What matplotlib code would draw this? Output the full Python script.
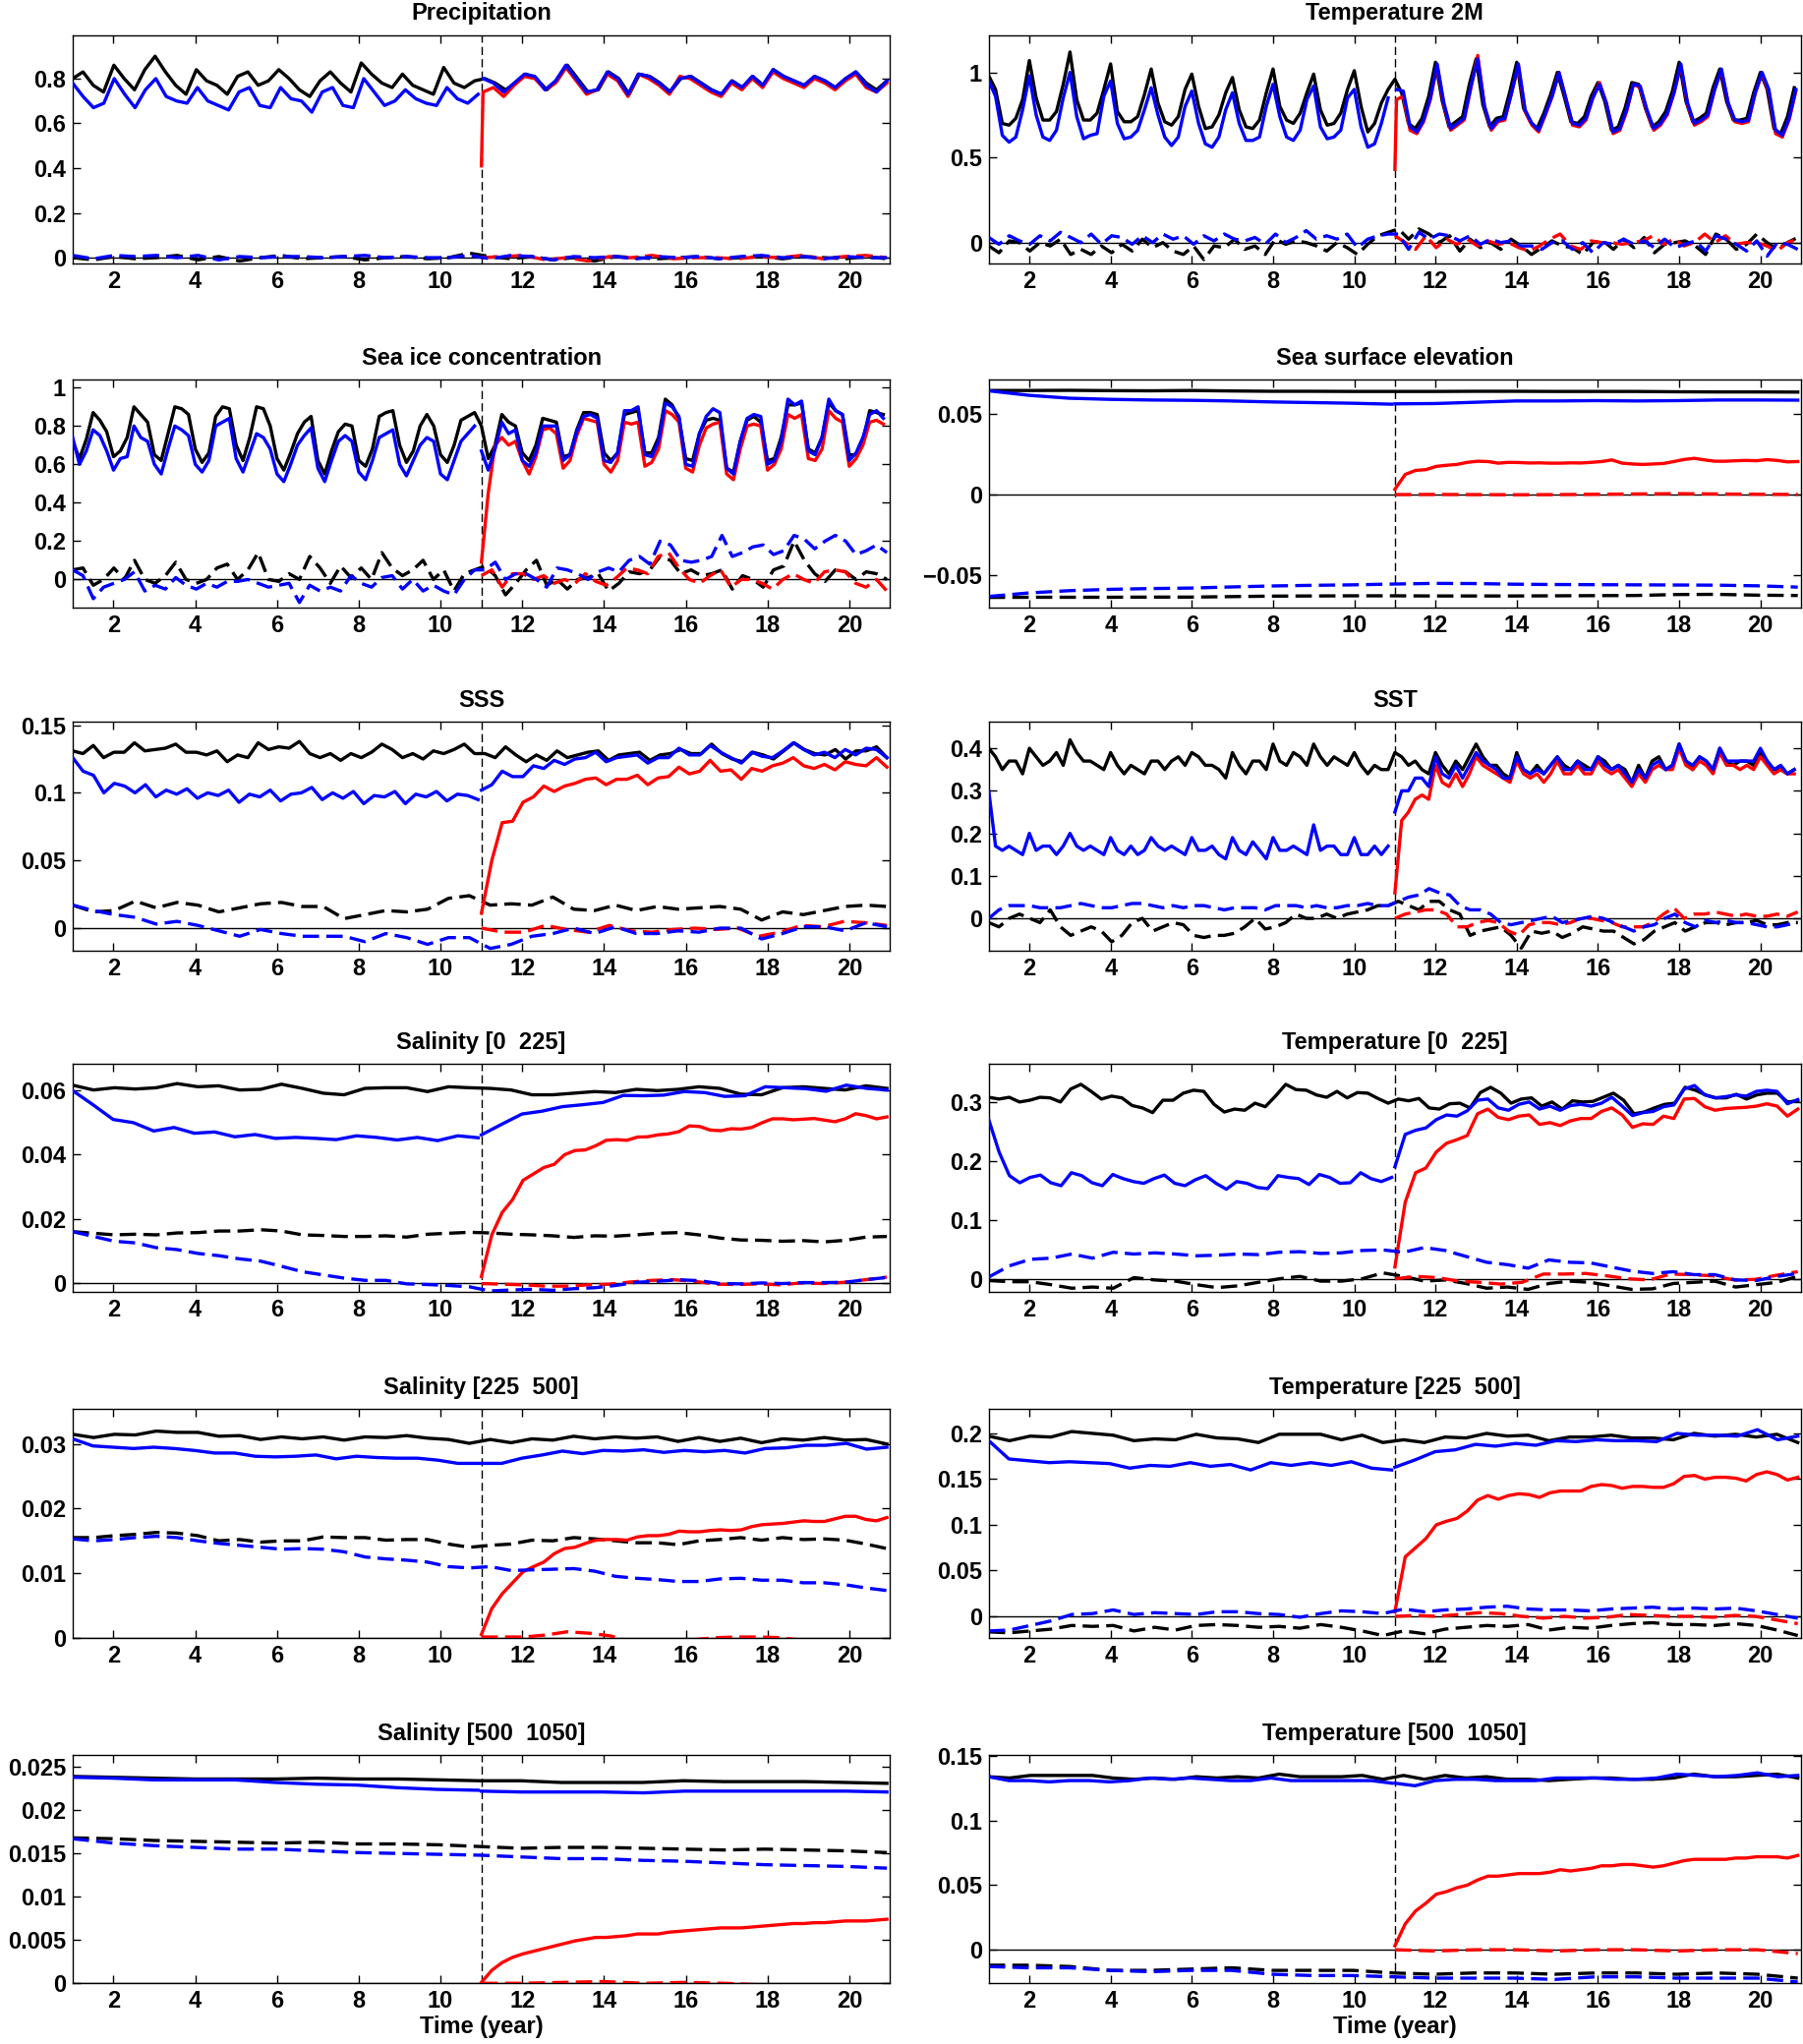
import numpy as np
import matplotlib
matplotlib.use("Agg")
import matplotlib.pyplot as plt

plt.rcParams['font.family'] = ['Liberation Sans', 'DejaVu Sans']
plt.rcParams['font.weight'] = 'bold'
plt.rcParams['axes.unicode_minus'] = True

# ---------------- time grids (years) ----------------
T_SPLIT = 11.0
XTICKS = [2, 4, 6, 8, 10, 12, 14, 16, 18, 20]
T6_FULL = 1 + np.arange(120) / 6
T6_PRE = 1 + np.arange(60) / 6
T6_POST = 11 + np.arange(60) / 6
T6_POST_B = 11.04 + np.arange(60) / 6
TQ_FULL = np.linspace(1, 20.92, 80)
TQ_PRE = np.linspace(1, 10.92, 40)
TQ_POST = np.linspace(11, 20.92, 40)
TQ_POST_B = np.linspace(11.04, 20.92, 40)
TH_FULL = np.linspace(1, 20.92, 40)
TH_PRE = np.linspace(1, 10.92, 21)
TH_POST = np.linspace(11, 20.92, 21)
TH_POST20 = np.linspace(11, 20.92, 20)
TY_FULL = np.linspace(1, 20.92, 21)
TY_PRE = np.linspace(1, 10.92, 11)
TY_POST = np.linspace(11, 20.92, 11)

def flat(rows):
    return np.concatenate([np.asarray(r, dtype=float) for r in rows])

# ---------------- Precipitation ----------------
P_BLACK = flat([
    [0.80, 0.83, 0.77, 0.74, 0.86, 0.80, 0.75, 0.84, 0.90, 0.83],
    [0.77, 0.73, 0.84, 0.79, 0.77, 0.73, 0.81, 0.83, 0.77, 0.79],
    [0.84, 0.80, 0.75, 0.72, 0.79, 0.83, 0.78, 0.74, 0.87, 0.82],
    [0.78, 0.76, 0.82, 0.77, 0.75, 0.73, 0.85, 0.78, 0.76, 0.79],
    [0.80, 0.78, 0.75, 0.78, 0.82, 0.80, 0.75, 0.79, 0.86, 0.80],
    [0.74, 0.75, 0.83, 0.80, 0.73, 0.82, 0.81, 0.78, 0.74, 0.80],
    [0.81, 0.78, 0.75, 0.73, 0.79, 0.76, 0.81, 0.77, 0.84, 0.81],
    [0.79, 0.77, 0.81, 0.79, 0.76, 0.80, 0.83, 0.78, 0.75, 0.79]])
P_BLUE_PRE = flat([
    [0.78, 0.72, 0.67, 0.69, 0.80, 0.73, 0.67, 0.75, 0.80, 0.72],
    [0.70, 0.69, 0.76, 0.70, 0.68, 0.66, 0.74, 0.76, 0.68, 0.67],
    [0.76, 0.71, 0.70, 0.65, 0.74, 0.76, 0.68, 0.67, 0.80, 0.74],
    [0.68, 0.70, 0.75, 0.71, 0.69, 0.68, 0.76, 0.71, 0.69, 0.73]])
P_BLUE_POST = flat([
    [0.80, 0.78, 0.74, 0.78, 0.82, 0.81, 0.75, 0.79, 0.86, 0.80],
    [0.74, 0.75, 0.83, 0.80, 0.73, 0.82, 0.81, 0.78, 0.74, 0.80],
    [0.81, 0.78, 0.75, 0.73, 0.79, 0.76, 0.81, 0.77, 0.84, 0.81],
    [0.79, 0.77, 0.81, 0.79, 0.76, 0.80, 0.83, 0.77, 0.74, 0.79]])
P_RED_START = 0.41
P_RED_POST = flat([
    [0.74, 0.76, 0.72, 0.77, 0.81, 0.80, 0.75, 0.78, 0.85, 0.79],
    [0.73, 0.75, 0.82, 0.79, 0.72, 0.82, 0.80, 0.77, 0.73, 0.81],
    [0.80, 0.77, 0.74, 0.72, 0.78, 0.75, 0.80, 0.76, 0.83, 0.80],
    [0.78, 0.76, 0.80, 0.78, 0.75, 0.79, 0.82, 0.76, 0.74, 0.78]])
P_BLACK_D = flat([
    [0.0, -0.01, 0.005, -0.005, 0.0, 0.01, -0.01, 0.005, -0.015, 0.0],
    [0.01, -0.005, 0.0, 0.005, -0.01, 0.0, 0.005, -0.005, 0.0, 0.02],
    [0.005, -0.005, 0.005, -0.01, 0.0, -0.015, 0.005, 0.0, -0.005, 0.0],
    [0.005, -0.005, 0.0, 0.005, -0.005, 0.005, 0.0, -0.005, 0.005, -0.005]])
P_BLUE_D = flat([
    [0.01, -0.005, 0.01, 0.005, 0.01, 0.0, 0.01, -0.01, 0.005, 0.0],
    [0.005, 0.005, 0.0, 0.005, 0.01, 0.0, 0.005, 0.0, 0.0, 0.01],
    [-0.005, 0.01, 0.005, -0.01, 0.005, 0.0, 0.005, -0.005, 0.005, 0.0],
    [0.005, -0.005, 0.005, 0.01, 0.0, 0.005, -0.005, 0.005, 0.0, 0.0]])
P_RED_D = flat([[0.0, 0.005, 0.01, -0.01, 0.0, -0.015, 0.005, 0.0, 0.01, -0.005],
                [0.0, 0.0, -0.005, 0.005, 0.0, 0.01, -0.005, 0.005, 0.01, 0.0]])

# ---------------- Temperature 2M ----------------
A_BLACK = flat([
    [0.98, 0.90, 0.70, 0.69, 0.73, 0.84], [1.07, 0.85, 0.72, 0.72, 0.77, 0.93],
    [1.12, 0.84, 0.72, 0.72, 0.76, 0.90], [1.05, 0.77, 0.71, 0.71, 0.74, 0.87],
    [1.02, 0.82, 0.71, 0.69, 0.74, 0.90], [0.99, 0.80, 0.67, 0.68, 0.75, 0.88],
    [0.97, 0.78, 0.68, 0.67, 0.72, 0.88], [1.02, 0.80, 0.72, 0.70, 0.76, 0.88],
    [0.99, 0.78, 0.69, 0.70, 0.76, 0.90], [1.01, 0.80, 0.65, 0.70, 0.82, 0.90],
    [0.96, 0.88, 0.70, 0.67, 0.73, 0.86], [1.06, 0.83, 0.68, 0.71, 0.74, 0.93],
    [1.08, 0.81, 0.68, 0.73, 0.74, 0.89], [1.06, 0.79, 0.71, 0.67, 0.76, 0.87],
    [1.00, 0.86, 0.71, 0.70, 0.74, 0.86], [0.94, 0.83, 0.66, 0.68, 0.79, 0.94],
    [0.93, 0.79, 0.68, 0.71, 0.77, 0.89], [1.06, 0.83, 0.71, 0.73, 0.76, 0.91],
    [1.02, 0.83, 0.72, 0.72, 0.73, 0.88], [1.00, 0.90, 0.67, 0.64, 0.74, 0.91]])
A_BLUE_PRE = flat([
    [0.95, 0.86, 0.63, 0.59, 0.62, 0.78], [0.98, 0.75, 0.62, 0.60, 0.66, 0.85],
    [1.00, 0.74, 0.61, 0.63, 0.64, 0.86], [0.95, 0.70, 0.61, 0.62, 0.66, 0.78],
    [0.91, 0.75, 0.62, 0.57, 0.62, 0.80], [0.89, 0.70, 0.58, 0.56, 0.62, 0.78],
    [0.88, 0.70, 0.60, 0.60, 0.62, 0.80], [0.93, 0.74, 0.62, 0.60, 0.66, 0.84],
    [0.92, 0.68, 0.61, 0.62, 0.66, 0.85], [0.90, 0.68, 0.56, 0.58, 0.70, 0.85]])
A_BLUE_POST = flat([
    [0.90, 0.89, 0.68, 0.65, 0.72, 0.85], [1.05, 0.82, 0.67, 0.70, 0.73, 0.92],
    [1.08, 0.80, 0.67, 0.72, 0.73, 0.88], [1.05, 0.78, 0.70, 0.66, 0.76, 0.86],
    [1.00, 0.85, 0.70, 0.69, 0.73, 0.85], [0.93, 0.82, 0.65, 0.67, 0.78, 0.93],
    [0.92, 0.78, 0.67, 0.70, 0.76, 0.88], [1.05, 0.82, 0.70, 0.72, 0.75, 0.90],
    [1.02, 0.82, 0.72, 0.71, 0.72, 0.88], [1.00, 0.90, 0.66, 0.63, 0.73, 0.90]])
A_RED_START = 0.43
A_RED_POST = flat([
    [0.84, 0.86, 0.66, 0.64, 0.71, 0.84], [1.04, 0.81, 0.66, 0.69, 0.72, 0.91],
    [1.10, 0.80, 0.66, 0.71, 0.72, 0.88], [1.04, 0.77, 0.69, 0.65, 0.75, 0.86],
    [1.00, 0.85, 0.69, 0.68, 0.72, 0.85], [0.94, 0.82, 0.64, 0.66, 0.77, 0.93],
    [0.91, 0.77, 0.66, 0.69, 0.75, 0.88], [1.04, 0.81, 0.69, 0.71, 0.74, 0.90],
    [1.01, 0.82, 0.71, 0.70, 0.71, 0.88], [0.99, 0.89, 0.64, 0.62, 0.72, 0.89]])
A_BLACK_D = flat([
    [-0.02, -0.06, 0.01, 0.0, -0.05, 0.0, -0.02, 0.02, -0.07, -0.04],
    [-0.07, -0.02, -0.06, -0.01, -0.05, 0.02, -0.03, 0.0, -0.05, -0.07],
    [-0.02, -0.10, -0.02, -0.03, 0.02, -0.04, -0.02, -0.07, 0.02, -0.01],
    [0.01, 0.0, -0.02, -0.05, 0.0, -0.03, -0.07, -0.01, 0.04, 0.06],
    [0.08, 0.02, 0.08, 0.05, 0.0, 0.04, -0.05, 0.02, -0.03, 0.0],
    [-0.04, 0.02, -0.02, -0.07, -0.03, 0.01, -0.02, -0.03, -0.07, 0.0],
    [0.01, -0.04, 0.02, -0.03, 0.03, -0.06, -0.01, 0.0, 0.01, -0.02],
    [-0.07, 0.05, 0.02, -0.04, -0.01, 0.05, 0.0, -0.04, 0.0, 0.03]])
A_BLUE_D = flat([
    [0.03, -0.01, 0.04, 0.01, -0.01, 0.04, 0.01, 0.06, 0.03, 0.0],
    [0.05, -0.01, 0.04, 0.03, -0.01, 0.04, 0.0, 0.05, 0.02, 0.04],
    [-0.01, 0.04, 0.01, 0.05, 0.02, 0.01, 0.03, -0.01, 0.05, 0.0],
    [0.03, 0.07, 0.02, 0.04, 0.02, 0.05, -0.03, 0.02, 0.04, 0.05],
    [0.05, -0.04, 0.06, 0.02, 0.05, 0.04, 0.01, 0.04, -0.01, 0.02],
    [0.0, 0.01, -0.02, -0.02, -0.04, 0.0, 0.01, -0.04, 0.0, -0.06],
    [0.0, -0.01, 0.02, -0.01, 0.01, -0.03, 0.02, -0.03, -0.01, 0.01],
    [-0.05, 0.04, 0.02, -0.01, -0.05, 0.01, -0.08, 0.0, -0.01, -0.04]])
A_RED_D = flat([
    [0.04, 0.0, -0.04, 0.04, -0.03, 0.02, -0.01, 0.02, -0.02, 0.01],
    [-0.01, 0.0, -0.03, -0.05, -0.02, 0.02, 0.05, -0.02, -0.04, 0.01],
    [0.0, 0.0, -0.01, 0.0, 0.01, 0.04, -0.01, 0.02, -0.02, 0.0],
    [0.05, 0.0, 0.04, -0.01, 0.0, 0.0, -0.02, -0.05, 0.0, 0.02]])

# ---------------- Sea ice concentration ----------------
I_BLACK = flat([
    [0.72, 0.63, 0.73, 0.87, 0.83, 0.77], [0.64, 0.67, 0.74, 0.90, 0.86, 0.82],
    [0.65, 0.62, 0.76, 0.90, 0.89, 0.86], [0.68, 0.61, 0.66, 0.85, 0.90, 0.89],
    [0.70, 0.62, 0.74, 0.90, 0.89, 0.80], [0.63, 0.57, 0.66, 0.76, 0.82, 0.85],
    [0.62, 0.55, 0.67, 0.77, 0.81, 0.80], [0.62, 0.59, 0.68, 0.85, 0.87, 0.88],
    [0.70, 0.61, 0.67, 0.80, 0.86, 0.80], [0.65, 0.61, 0.70, 0.83, 0.85, 0.87],
    [0.80, 0.63, 0.70, 0.86, 0.82, 0.80], [0.66, 0.62, 0.70, 0.84, 0.83, 0.82],
    [0.64, 0.65, 0.78, 0.87, 0.87, 0.86], [0.66, 0.62, 0.66, 0.86, 0.87, 0.88],
    [0.66, 0.66, 0.74, 0.94, 0.91, 0.84], [0.63, 0.62, 0.76, 0.83, 0.84, 0.83],
    [0.58, 0.56, 0.72, 0.83, 0.85, 0.82], [0.62, 0.63, 0.74, 0.91, 0.91, 0.92],
    [0.68, 0.66, 0.74, 0.92, 0.88, 0.86], [0.65, 0.65, 0.72, 0.88, 0.87, 0.86]])
I_BLUE_PRE = flat([
    [0.74, 0.60, 0.67, 0.78, 0.75, 0.67], [0.57, 0.63, 0.64, 0.80, 0.74, 0.72],
    [0.60, 0.55, 0.68, 0.80, 0.78, 0.75], [0.60, 0.56, 0.62, 0.80, 0.82, 0.84],
    [0.63, 0.56, 0.66, 0.76, 0.74, 0.68], [0.55, 0.51, 0.60, 0.70, 0.75, 0.79],
    [0.58, 0.51, 0.62, 0.72, 0.75, 0.72], [0.56, 0.52, 0.62, 0.74, 0.76, 0.78],
    [0.60, 0.54, 0.62, 0.70, 0.74, 0.72], [0.55, 0.52, 0.62, 0.72, 0.76, 0.80]])
I_BLUE_POST = flat([
    [0.67, 0.57, 0.68, 0.82, 0.76, 0.78], [0.62, 0.59, 0.66, 0.80, 0.80, 0.80],
    [0.62, 0.65, 0.77, 0.85, 0.86, 0.84], [0.62, 0.61, 0.66, 0.88, 0.88, 0.90],
    [0.65, 0.64, 0.72, 0.92, 0.90, 0.85], [0.60, 0.59, 0.76, 0.85, 0.89, 0.87],
    [0.58, 0.55, 0.72, 0.84, 0.86, 0.85], [0.60, 0.62, 0.72, 0.94, 0.91, 0.93],
    [0.67, 0.65, 0.74, 0.94, 0.88, 0.86], [0.62, 0.66, 0.74, 0.86, 0.88, 0.84]])
I_RED_POST = flat([
    [0.09, 0.45, 0.70, 0.74, 0.70, 0.72], [0.62, 0.55, 0.64, 0.78, 0.79, 0.76],
    [0.58, 0.62, 0.75, 0.84, 0.83, 0.82], [0.60, 0.56, 0.62, 0.82, 0.81, 0.82],
    [0.59, 0.61, 0.68, 0.88, 0.86, 0.82], [0.58, 0.56, 0.70, 0.79, 0.81, 0.82],
    [0.55, 0.52, 0.68, 0.80, 0.81, 0.80], [0.57, 0.60, 0.68, 0.86, 0.84, 0.86],
    [0.63, 0.62, 0.68, 0.88, 0.84, 0.82], [0.59, 0.63, 0.70, 0.82, 0.83, 0.81]])
I_BLACK_D = flat([
    [0.05, 0.06, -0.03, 0.0, 0.06, 0.0, 0.10, 0.0, -0.02, 0.02],
    [0.09, 0.0, -0.02, 0.0, 0.06, 0.08, 0.0, 0.05, 0.14, 0.0],
    [-0.01, 0.03, 0.0, 0.12, 0.06, -0.02, 0.07, 0.01, 0.06, 0.0],
    [0.14, 0.06, 0.02, 0.05, 0.10, 0.0, 0.05, -0.06, 0.03, 0.05],
    [0.07, 0.02, -0.08, -0.02, 0.05, 0.10, -0.03, 0.0, -0.05, 0.0],
    [0.01, 0.03, -0.06, -0.02, 0.04, 0.03, 0.05, 0.12, 0.10, 0.03],
    [0.05, 0.02, 0.03, 0.05, -0.05, 0.02, 0.0, -0.04, 0.05, 0.07],
    [0.20, 0.10, 0.03, -0.01, 0.05, 0.04, 0.0, 0.04, 0.03, 0.0]])
I_BLUE_D = flat([
    [0.05, 0.02, -0.10, -0.04, -0.02, 0.0, 0.04, -0.06, -0.03, -0.05],
    [0.01, -0.03, -0.05, -0.02, -0.04, -0.01, -0.01, 0.0, -0.02, -0.04],
    [-0.03, -0.02, -0.12, -0.03, -0.06, -0.04, -0.06, 0.02, -0.02, -0.04],
    [0.01, 0.02, -0.05, 0.0, -0.06, -0.03, -0.06, -0.08, 0.0, 0.05],
    [0.05, 0.09, 0.0, 0.03, 0.03, 0.0, -0.04, 0.06, 0.05, 0.03],
    [0.0, 0.04, 0.06, 0.04, 0.10, 0.12, 0.08, 0.20, 0.18, 0.10],
    [0.09, 0.10, 0.12, 0.23, 0.12, 0.14, 0.17, 0.18, 0.13, 0.15],
    [0.23, 0.21, 0.16, 0.20, 0.23, 0.20, 0.13, 0.15, 0.18, 0.14]])
I_RED_D = flat([
    [0.02, 0.05, -0.04, 0.03, 0.03, 0.0, 0.02, -0.02, 0.0, -0.02],
    [0.03, -0.01, -0.03, 0.01, 0.06, 0.05, 0.03, 0.12, 0.14, 0.06],
    [0.0, -0.02, 0.02, 0.05, -0.04, 0.0, 0.0, -0.02, -0.05, 0.0],
    [0.03, 0.0, -0.02, 0.04, 0.05, 0.04, -0.02, -0.04, 0.0, -0.06]])

# ---------------- Sea surface elevation ----------------
E_BLACK = [0.0646, 0.0646, 0.0647, 0.0645, 0.0644, 0.0646, 0.0643, 0.0641, 0.0641, 0.0640, 0.0640,
           0.0640, 0.0641, 0.0641, 0.0640, 0.0640, 0.0640, 0.0638, 0.0637, 0.0637, 0.0636]
E_BLUE_PRE = [0.0644, 0.0616, 0.0598, 0.0591, 0.0587, 0.0585, 0.0581, 0.0575, 0.0571, 0.0567, 0.0561]
E_BLUE_POST = [0.0563, 0.0565, 0.0573, 0.0581, 0.0581, 0.0583, 0.0581, 0.0583, 0.0587, 0.0587, 0.0586]
E_RED = flat([
    [0.0033, 0.0125, 0.0150, 0.0155, 0.0175, 0.0182, 0.0187, 0.0200, 0.0207, 0.0205],
    [0.0195, 0.0200, 0.0199, 0.0196, 0.0197, 0.0195, 0.0195, 0.0197, 0.0196, 0.0200],
    [0.0205, 0.0215, 0.0195, 0.0190, 0.0187, 0.0190, 0.0193, 0.0205, 0.0218, 0.0225],
    [0.0215, 0.0207, 0.0207, 0.0210, 0.0212, 0.0210, 0.0217, 0.0212, 0.0203, 0.0205]])
E_BLACK_D = [-0.0638, -0.0637, -0.0637, -0.0637, -0.0636, -0.0636, -0.0633, -0.0630, -0.0629, -0.0628, -0.0628,
             -0.0629, -0.0629, -0.0629, -0.0628, -0.0627, -0.0626, -0.0620, -0.0619, -0.0624, -0.0626]
E_BLUE_D = [-0.0632, -0.0610, -0.0596, -0.0588, -0.0583, -0.0580, -0.0573, -0.0567, -0.0563, -0.0560, -0.0555,
            -0.0551, -0.0552, -0.0556, -0.0558, -0.0559, -0.0560, -0.0561, -0.0562, -0.0566, -0.0574]
E_RED_D = [0.0000, 0.0001, 0.0000, -0.0001, 0.0000, 0.0002, 0.0004, 0.0006, 0.0004, 0.0002, 0.0001]

# ---------------- SSS ----------------
S_BLACK = flat([
    [0.131, 0.129, 0.135, 0.126, 0.130, 0.130, 0.137, 0.131, 0.132, 0.133],
    [0.136, 0.130, 0.130, 0.128, 0.131, 0.123, 0.128, 0.126, 0.137, 0.132],
    [0.134, 0.133, 0.138, 0.129, 0.126, 0.129, 0.124, 0.129, 0.126, 0.130],
    [0.136, 0.132, 0.126, 0.129, 0.125, 0.131, 0.129, 0.132, 0.136, 0.129],
    [0.129, 0.126, 0.134, 0.128, 0.123, 0.128, 0.124, 0.131, 0.126, 0.128],
    [0.130, 0.131, 0.124, 0.128, 0.129, 0.130, 0.124, 0.128, 0.129, 0.132],
    [0.129, 0.129, 0.136, 0.129, 0.125, 0.123, 0.130, 0.128, 0.125, 0.131],
    [0.137, 0.132, 0.129, 0.128, 0.132, 0.125, 0.131, 0.131, 0.134, 0.126]])
S_BLUE_PRE = flat([
    [0.126, 0.116, 0.113, 0.100, 0.107, 0.105, 0.100, 0.106, 0.097, 0.102],
    [0.099, 0.103, 0.096, 0.100, 0.098, 0.102, 0.093, 0.099, 0.097, 0.102],
    [0.094, 0.099, 0.100, 0.104, 0.095, 0.100, 0.096, 0.101, 0.092, 0.098],
    [0.097, 0.101, 0.092, 0.099, 0.097, 0.101, 0.094, 0.099, 0.098, 0.095]])
S_BLUE_POST = flat([
    [0.102, 0.106, 0.116, 0.112, 0.112, 0.120, 0.118, 0.124, 0.121, 0.125],
    [0.126, 0.130, 0.123, 0.126, 0.127, 0.128, 0.122, 0.126, 0.126, 0.133],
    [0.128, 0.128, 0.135, 0.130, 0.126, 0.122, 0.130, 0.127, 0.126, 0.131],
    [0.137, 0.132, 0.128, 0.130, 0.126, 0.132, 0.128, 0.133, 0.132, 0.126]])
S_RED = flat([
    [0.011, 0.050, 0.078, 0.079, 0.093, 0.097, 0.105, 0.101, 0.105, 0.107],
    [0.110, 0.111, 0.106, 0.110, 0.110, 0.113, 0.106, 0.111, 0.112, 0.119],
    [0.114, 0.116, 0.124, 0.116, 0.117, 0.110, 0.118, 0.116, 0.120, 0.122],
    [0.126, 0.120, 0.118, 0.121, 0.117, 0.123, 0.121, 0.120, 0.126, 0.119]])
S_BLACK_D = flat([
    [0.017, 0.012, 0.013, 0.020, 0.015, 0.019, 0.017, 0.012, 0.015, 0.018],
    [0.019, 0.016, 0.016, 0.007, 0.010, 0.013, 0.012, 0.014, 0.022, 0.024],
    [0.017, 0.018, 0.017, 0.023, 0.014, 0.013, 0.017, 0.013, 0.016, 0.014],
    [0.015, 0.016, 0.014, 0.006, 0.012, 0.010, 0.013, 0.016, 0.017, 0.016]])
S_BLUE_D = flat([
    [0.017, 0.013, 0.010, 0.008, 0.003, 0.005, 0.002, -0.002, -0.006, -0.001],
    [-0.004, -0.006, -0.006, -0.006, -0.010, -0.004, -0.007, -0.012, -0.007, -0.007],
    [-0.015, -0.012, -0.006, -0.004, 0.000, -0.004, 0.001, -0.004, -0.004, -0.002],
    [-0.003, 0.000, 0.000, -0.008, -0.004, 0.001, 0.001, -0.002, 0.004, 0.001]])
S_RED_D = flat([
    [0.0, -0.003, -0.003, 0.002, -0.001, -0.003, 0.002, -0.002, -0.003, -0.001],
    [0.0, -0.001, 0.0, -0.006, -0.003, 0.002, 0.001, 0.005, 0.004, 0.002]])

# ---------------- SST ----------------
T_BLACK = flat([
    [0.40, 0.38, 0.35, 0.37, 0.37, 0.34], [0.40, 0.38, 0.36, 0.37, 0.39, 0.36],
    [0.42, 0.39, 0.37, 0.37, 0.36, 0.35], [0.39, 0.36, 0.34, 0.36, 0.35, 0.34],
    [0.37, 0.37, 0.35, 0.37, 0.38, 0.36], [0.39, 0.38, 0.36, 0.36, 0.35, 0.33],
    [0.39, 0.36, 0.34, 0.37, 0.37, 0.35], [0.41, 0.37, 0.36, 0.39, 0.38, 0.36],
    [0.41, 0.38, 0.36, 0.38, 0.37, 0.36], [0.39, 0.36, 0.34, 0.36, 0.35, 0.35],
    [0.39, 0.38, 0.36, 0.37, 0.35, 0.34], [0.39, 0.36, 0.34, 0.37, 0.35, 0.38],
    [0.41, 0.38, 0.36, 0.36, 0.34, 0.33], [0.39, 0.35, 0.34, 0.36, 0.34, 0.36],
    [0.38, 0.36, 0.35, 0.37, 0.36, 0.35], [0.38, 0.37, 0.35, 0.36, 0.35, 0.32],
    [0.36, 0.33, 0.37, 0.38, 0.35, 0.36], [0.41, 0.37, 0.35, 0.38, 0.37, 0.35],
    [0.40, 0.37, 0.36, 0.37, 0.37, 0.36], [0.39, 0.37, 0.35, 0.35, 0.34, 0.35]])
T_BLUE_PRE = flat([
    [0.30, 0.17, 0.16, 0.17, 0.16, 0.15], [0.20, 0.16, 0.17, 0.17, 0.15, 0.17],
    [0.20, 0.17, 0.16, 0.17, 0.16, 0.15], [0.19, 0.16, 0.15, 0.17, 0.15, 0.16],
    [0.19, 0.17, 0.16, 0.17, 0.16, 0.15], [0.19, 0.16, 0.16, 0.17, 0.15, 0.14],
    [0.19, 0.16, 0.15, 0.18, 0.16, 0.14], [0.19, 0.16, 0.16, 0.17, 0.16, 0.15],
    [0.22, 0.16, 0.17, 0.17, 0.15, 0.15], [0.19, 0.15, 0.15, 0.17, 0.15, 0.17]])
T_BLUE_POST = flat([
    [0.25, 0.30, 0.30, 0.33, 0.33, 0.31], [0.38, 0.34, 0.33, 0.36, 0.33, 0.36],
    [0.39, 0.37, 0.36, 0.35, 0.33, 0.33], [0.38, 0.35, 0.34, 0.35, 0.34, 0.36],
    [0.38, 0.35, 0.35, 0.37, 0.35, 0.35], [0.38, 0.36, 0.35, 0.36, 0.34, 0.32],
    [0.35, 0.33, 0.36, 0.37, 0.35, 0.36], [0.41, 0.37, 0.36, 0.38, 0.37, 0.35],
    [0.40, 0.37, 0.37, 0.37, 0.37, 0.37], [0.40, 0.37, 0.35, 0.36, 0.34, 0.35]])
T_RED = flat([
    [0.06, 0.23, 0.25, 0.28, 0.29, 0.28], [0.36, 0.32, 0.31, 0.34, 0.31, 0.34],
    [0.38, 0.36, 0.35, 0.34, 0.33, 0.32], [0.37, 0.34, 0.33, 0.34, 0.32, 0.34],
    [0.37, 0.34, 0.34, 0.36, 0.34, 0.34], [0.37, 0.35, 0.34, 0.35, 0.33, 0.31],
    [0.34, 0.32, 0.35, 0.36, 0.35, 0.35], [0.40, 0.36, 0.35, 0.37, 0.36, 0.34],
    [0.39, 0.36, 0.36, 0.35, 0.36, 0.35], [0.38, 0.36, 0.34, 0.35, 0.34, 0.34]])
T_BLACK_D = flat([
    [-0.01, -0.02, 0.0, 0.01, 0.0, -0.01, 0.02, -0.02, -0.04, -0.03],
    [-0.02, -0.03, -0.055, -0.04, -0.01, 0.0, -0.03, -0.02, -0.01, -0.015],
    [-0.04, -0.045, -0.04, -0.04, -0.035, -0.02, 0.0, -0.025, -0.02, -0.01],
    [0.01, 0.0, 0.0, 0.01, 0.0, 0.01, 0.015, 0.02, 0.03, 0.03],
    [0.04, 0.03, 0.02, 0.04, 0.04, 0.02, 0.01, -0.04, -0.03, -0.025],
    [-0.02, -0.04, -0.07, -0.03, -0.035, -0.03, -0.045, -0.035, -0.02, -0.025],
    [-0.03, -0.03, -0.045, -0.06, -0.05, -0.03, -0.02, -0.01, -0.03, -0.02],
    [-0.01, -0.01, -0.015, -0.01, -0.01, -0.005, -0.015, -0.015, -0.01, -0.01]])
T_BLUE_D = flat([
    [0.0, 0.02, 0.03, 0.03, 0.03, 0.025, 0.025, 0.025, 0.03, 0.035],
    [0.03, 0.025, 0.025, 0.03, 0.035, 0.035, 0.03, 0.025, 0.03, 0.025],
    [0.03, 0.03, 0.025, 0.02, 0.025, 0.025, 0.025, 0.02, 0.03, 0.03],
    [0.03, 0.025, 0.03, 0.025, 0.025, 0.03, 0.03, 0.035, 0.03, 0.03],
    [0.04, 0.05, 0.055, 0.07, 0.06, 0.055, 0.03, 0.02, 0.02, 0.01],
    [-0.01, -0.015, -0.01, -0.005, 0.0, 0.005, -0.01, -0.005, 0.0, 0.005],
    [0.0, -0.01, -0.02, -0.03, -0.02, -0.015, 0.0, 0.01, -0.01, -0.02],
    [-0.005, -0.01, -0.005, -0.01, -0.01, -0.015, -0.02, -0.02, -0.015, -0.01]])
T_RED_D = flat([
    [0.0, 0.01, 0.015, 0.02, 0.02, 0.01, -0.02, -0.02, -0.01, -0.005],
    [-0.01, -0.03, -0.04, -0.015, -0.01, -0.01, -0.015, -0.01, 0.0, 0.0],
    [-0.005, -0.01, -0.02, -0.02, -0.02, -0.01, 0.01, 0.025, 0.0, 0.01],
    [0.01, 0.015, 0.01, 0.005, 0.01, 0.005, 0.005, 0.01, 0.005, 0.015]])

# ---------------- Salinity [0 225] ----------------
S1_BLACK = flat([
    [0.0617, 0.0602, 0.0609, 0.0605, 0.0609, 0.0622, 0.0612, 0.0615, 0.0602, 0.0604],
    [0.0620, 0.0607, 0.0592, 0.0587, 0.0607, 0.0609, 0.0609, 0.0597, 0.0612, 0.0609],
    [0.0607, 0.0602, 0.0587, 0.0587, 0.0592, 0.0597, 0.0594, 0.0604, 0.0600, 0.0604],
    [0.0612, 0.0607, 0.0589, 0.0587, 0.0609, 0.0612, 0.0607, 0.0602, 0.0615, 0.0607]])
S1_BLUE_PRE = [0.0600, 0.0556, 0.0510, 0.0500, 0.0474, 0.0485, 0.0467, 0.0471, 0.0456, 0.0463, 0.0451,
               0.0454, 0.0451, 0.0447, 0.0459, 0.0454, 0.0446, 0.0454, 0.0444, 0.0459, 0.0453]
S1_BLUE_POST = [0.0462, 0.0495, 0.0527, 0.0536, 0.0550, 0.0556, 0.0563, 0.0585, 0.0584, 0.0586, 0.0597,
                0.0594, 0.0582, 0.0584, 0.0612, 0.0609, 0.0606, 0.0598, 0.0617, 0.0607, 0.0602]
S1_RED = flat([
    [0.0020, 0.0150, 0.0220, 0.0260, 0.0320, 0.0340, 0.0360, 0.0370, 0.0400, 0.0413],
    [0.0415, 0.0428, 0.0445, 0.0447, 0.0445, 0.0455, 0.0456, 0.0462, 0.0465, 0.0472],
    [0.0490, 0.0488, 0.0477, 0.0475, 0.0481, 0.0480, 0.0485, 0.0500, 0.0512, 0.0512],
    [0.0509, 0.0511, 0.0513, 0.0508, 0.0503, 0.0512, 0.0528, 0.0522, 0.0512, 0.0518]])
S1_BLACK_D = flat([
    [0.0160, 0.0155, 0.0150, 0.0152, 0.0150, 0.0156, 0.0157, 0.0162, 0.0162, 0.0166],
    [0.0162, 0.0150, 0.0148, 0.0145, 0.0145, 0.0147, 0.0143, 0.0152, 0.0155, 0.0158],
    [0.0156, 0.0152, 0.0150, 0.0147, 0.0142, 0.0147, 0.0146, 0.0150, 0.0155, 0.0157],
    [0.0150, 0.0140, 0.0134, 0.0133, 0.0130, 0.0132, 0.0128, 0.0133, 0.0143, 0.0145]])
S1_BLUE_D = flat([
    [0.0160, 0.0145, 0.0130, 0.0125, 0.0110, 0.0104, 0.0092, 0.0085, 0.0075, 0.0068],
    [0.0052, 0.0035, 0.0025, 0.0015, 0.0008, 0.0008, -0.0003, -0.0005, -0.0008, -0.0012],
    [-0.0025, -0.0022, -0.0020, -0.0023, -0.0018, -0.0015, -0.0008, 0.0002, 0.0005, 0.0010],
    [0.0007, -0.0002, -0.0003, 0.0000, -0.0002, 0.0001, 0.0001, 0.0002, 0.0010, 0.0017]])
S1_RED_D = flat([
    [-0.0002, -0.0004, -0.0006, -0.0010, -0.0010, -0.0006, -0.0004, 0.0003, 0.0008, 0.0010],
    [0.0005, -0.0004, -0.0005, -0.0003, -0.0006, 0.0000, -0.0002, 0.0002, 0.0010, 0.0018]])

# ---------------- Temperature [0 225] ----------------
T1_BLACK = flat([
    [0.308, 0.305, 0.308, 0.300, 0.303, 0.308, 0.307, 0.300, 0.322, 0.330],
    [0.318, 0.305, 0.310, 0.307, 0.294, 0.290, 0.282, 0.303, 0.303, 0.315],
    [0.320, 0.318, 0.296, 0.283, 0.288, 0.286, 0.298, 0.292, 0.310, 0.330],
    [0.321, 0.320, 0.312, 0.308, 0.318, 0.307, 0.316, 0.315, 0.306, 0.298],
    [0.305, 0.302, 0.306, 0.290, 0.288, 0.297, 0.298, 0.290, 0.316, 0.325],
    [0.315, 0.298, 0.305, 0.307, 0.293, 0.300, 0.288, 0.302, 0.300, 0.301],
    [0.308, 0.315, 0.303, 0.280, 0.283, 0.290, 0.296, 0.298, 0.325, 0.320],
    [0.312, 0.307, 0.307, 0.313, 0.305, 0.312, 0.315, 0.315, 0.300, 0.302]])
T1_BLUE_PRE = flat([
    [0.270, 0.215, 0.175, 0.163, 0.172, 0.176, 0.163, 0.158, 0.180, 0.175],
    [0.163, 0.158, 0.177, 0.170, 0.165, 0.162, 0.170, 0.176, 0.162, 0.158],
    [0.168, 0.175, 0.162, 0.152, 0.165, 0.162, 0.155, 0.153, 0.175, 0.172],
    [0.170, 0.160, 0.177, 0.172, 0.162, 0.163, 0.180, 0.170, 0.165, 0.172]])
T1_BLUE_POST = flat([
    [0.190, 0.245, 0.252, 0.256, 0.270, 0.278, 0.276, 0.285, 0.303, 0.305],
    [0.290, 0.286, 0.296, 0.300, 0.288, 0.293, 0.286, 0.294, 0.296, 0.293],
    [0.298, 0.308, 0.293, 0.277, 0.282, 0.284, 0.292, 0.295, 0.322, 0.328],
    [0.312, 0.307, 0.309, 0.312, 0.310, 0.318, 0.320, 0.318, 0.297, 0.304]])
T1_RED = flat([
    [0.020, 0.130, 0.180, 0.188, 0.215, 0.230, 0.236, 0.243, 0.280, 0.288],
    [0.274, 0.270, 0.276, 0.278, 0.262, 0.265, 0.260, 0.268, 0.272, 0.272],
    [0.284, 0.290, 0.278, 0.257, 0.263, 0.262, 0.276, 0.272, 0.305, 0.306],
    [0.292, 0.286, 0.289, 0.290, 0.291, 0.293, 0.297, 0.293, 0.276, 0.288]])
T1_BLACK_D = flat([
    [-0.003, -0.005, -0.005, -0.010, -0.016, -0.014, -0.016, 0.002, -0.002, -0.004],
    [-0.010, -0.015, -0.012, -0.006, 0.000, 0.004, -0.004, -0.004, 0.000, 0.010],
    [0.004, -0.004, -0.002, -0.008, -0.016, -0.014, -0.018, -0.008, -0.004, -0.006],
    [-0.012, -0.018, -0.017, -0.008, -0.006, -0.004, -0.014, -0.010, -0.006, 0.004]])
T1_BLUE_D = flat([
    [0.003, 0.022, 0.033, 0.035, 0.042, 0.035, 0.045, 0.042, 0.044, 0.042],
    [0.039, 0.040, 0.042, 0.041, 0.045, 0.046, 0.043, 0.044, 0.048, 0.049],
    [0.045, 0.053, 0.048, 0.038, 0.028, 0.024, 0.018, 0.032, 0.028, 0.027],
    [0.020, 0.013, 0.009, 0.012, 0.007, 0.007, -0.002, -0.003, 0.004, 0.009]])
T1_RED_D = flat([
    [0.000, 0.004, 0.002, -0.004, -0.006, -0.009, -0.006, 0.008, 0.008, 0.009],
    [0.005, 0.000, -0.002, 0.008, 0.007, 0.005, -0.002, -0.001, 0.006, 0.012]])

# ---------------- Salinity [225 500] ----------------
S2_BLACK = flat([
    [0.0315, 0.0310, 0.0315, 0.0314, 0.0320, 0.0318, 0.0318, 0.0312, 0.0313, 0.0307],
    [0.0311, 0.0308, 0.0311, 0.0306, 0.0311, 0.0310, 0.0313, 0.0309, 0.0307, 0.0301],
    [0.0307, 0.0302, 0.0308, 0.0306, 0.0312, 0.0308, 0.0311, 0.0309, 0.0311, 0.0304],
    [0.0310, 0.0304, 0.0309, 0.0302, 0.0308, 0.0306, 0.0310, 0.0306, 0.0307, 0.0300]])
S2_BLUE_PRE = [0.0308, 0.0297, 0.0295, 0.0293, 0.0295, 0.0293, 0.0290, 0.0286, 0.0286, 0.0281, 0.0280,
               0.0281, 0.0283, 0.0277, 0.0281, 0.0279, 0.0278, 0.0278, 0.0275, 0.0270, 0.0270]
S2_BLUE_POST = [0.0270, 0.0270, 0.0278, 0.0283, 0.0289, 0.0285, 0.0290, 0.0289, 0.0291, 0.0287, 0.0290,
                0.0288, 0.0290, 0.0286, 0.0293, 0.0294, 0.0298, 0.0298, 0.0301, 0.0292, 0.0295]
S2_RED = flat([
    [0.0005, 0.0045, 0.0068, 0.0085, 0.0102, 0.0110, 0.0117, 0.0130, 0.0138, 0.0140],
    [0.0146, 0.0151, 0.0152, 0.0152, 0.0151, 0.0156, 0.0158, 0.0158, 0.0160, 0.0165],
    [0.0164, 0.0164, 0.0166, 0.0167, 0.0166, 0.0167, 0.0172, 0.0175, 0.0176, 0.0177],
    [0.0179, 0.0181, 0.0180, 0.0180, 0.0184, 0.0188, 0.0188, 0.0183, 0.0181, 0.0186]])
S2_BLACK_D = flat([
    [0.0155, 0.0155, 0.0158, 0.0160, 0.0163, 0.0162, 0.0158, 0.0150, 0.0152, 0.0148],
    [0.0150, 0.0150, 0.0156, 0.0155, 0.0155, 0.0151, 0.0152, 0.0152, 0.0145, 0.0140],
    [0.0143, 0.0145, 0.0151, 0.0150, 0.0155, 0.0153, 0.0150, 0.0147, 0.0147, 0.0144],
    [0.0150, 0.0152, 0.0155, 0.0151, 0.0155, 0.0152, 0.0153, 0.0151, 0.0145, 0.0138]])
S2_BLUE_D = flat([
    [0.0153, 0.0150, 0.0152, 0.0155, 0.0157, 0.0155, 0.0150, 0.0146, 0.0143, 0.0140],
    [0.0137, 0.0138, 0.0137, 0.0133, 0.0125, 0.0122, 0.0120, 0.0117, 0.0110, 0.0108],
    [0.0110, 0.0104, 0.0105, 0.0106, 0.0107, 0.0103, 0.0095, 0.0092, 0.0090, 0.0087],
    [0.0087, 0.0091, 0.0092, 0.0089, 0.0089, 0.0085, 0.0085, 0.0082, 0.0077, 0.0073]])
S2_RED_D = flat([
    [0.0001, 0.0001, 0.0001, 0.0004, 0.0009, 0.0007, 0.0003, -0.0006, -0.0008, -0.0005],
    [-0.0003, 0.0000, 0.0001, 0.0001, 0.0000, -0.0004, -0.0006, -0.0005, -0.0004, -0.0006]])

# ---------------- Temperature [225 500] ----------------
T2_BLACK = flat([
    [0.197, 0.192, 0.197, 0.196, 0.202, 0.200, 0.198, 0.192, 0.194, 0.193],
    [0.199, 0.195, 0.194, 0.190, 0.199, 0.199, 0.199, 0.193, 0.198, 0.190],
    [0.193, 0.190, 0.196, 0.195, 0.200, 0.197, 0.198, 0.192, 0.196, 0.196],
    [0.198, 0.195, 0.195, 0.193, 0.200, 0.197, 0.199, 0.196, 0.199, 0.190]])
T2_BLUE_PRE = [0.192, 0.172, 0.170, 0.168, 0.169, 0.168, 0.167, 0.162, 0.165, 0.164, 0.168,
               0.164, 0.166, 0.160, 0.168, 0.165, 0.168, 0.165, 0.169, 0.162, 0.160]
T2_BLUE_POST = [0.163, 0.171, 0.180, 0.182, 0.188, 0.186, 0.189, 0.187, 0.192, 0.191, 0.193,
                0.192, 0.192, 0.191, 0.200, 0.198, 0.198, 0.197, 0.204, 0.193, 0.197]
T2_RED = flat([
    [0.005, 0.065, 0.075, 0.085, 0.100, 0.104, 0.107, 0.115, 0.127, 0.132],
    [0.128, 0.132, 0.134, 0.133, 0.130, 0.135, 0.137, 0.137, 0.137, 0.142],
    [0.144, 0.143, 0.140, 0.142, 0.142, 0.141, 0.141, 0.145, 0.153, 0.154],
    [0.150, 0.152, 0.152, 0.151, 0.148, 0.155, 0.158, 0.155, 0.149, 0.152]])
T2_BLACK_D = flat([
    [-0.017, -0.018, -0.016, -0.014, -0.010, -0.011, -0.010, -0.016, -0.012, -0.015],
    [-0.010, -0.009, -0.010, -0.012, -0.011, -0.013, -0.009, -0.012, -0.016, -0.021],
    [-0.016, -0.019, -0.014, -0.012, -0.010, -0.011, -0.009, -0.015, -0.012, -0.013],
    [-0.010, -0.008, -0.007, -0.009, -0.009, -0.010, -0.008, -0.010, -0.015, -0.021]])
T2_BLUE_D = flat([
    [-0.016, -0.015, -0.010, -0.005, 0.002, 0.003, 0.007, 0.002, 0.004, 0.003],
    [0.002, 0.005, 0.005, 0.003, 0.002, -0.001, 0.003, 0.006, 0.005, 0.003],
    [0.008, 0.005, 0.007, 0.008, 0.010, 0.011, 0.008, 0.007, 0.007, 0.006],
    [0.008, 0.009, 0.010, 0.008, 0.009, 0.008, 0.009, 0.006, 0.002, -0.002]])
T2_RED_D = flat([
    [0.000, 0.001, 0.000, 0.002, 0.004, 0.003, 0.000, -0.002, 0.000, -0.002],
    [-0.001, 0.002, 0.001, 0.000, 0.000, -0.001, 0.001, 0.000, -0.004, -0.008]])

# ---------------- Salinity [500 1050] ----------------
S3_BLACK = [0.0239, 0.0238, 0.0237, 0.0236, 0.0236, 0.0236, 0.0237, 0.0236, 0.0236, 0.0235, 0.0234,
            0.0234, 0.0232, 0.0232, 0.0232, 0.0234, 0.0233, 0.0233, 0.0233, 0.0232, 0.0231]
S3_BLUE_PRE = [0.0238, 0.0237, 0.0235, 0.0235, 0.0235, 0.0232, 0.0230, 0.0229, 0.0226, 0.0224, 0.0223]
S3_BLUE_POST = [0.0222, 0.0221, 0.0221, 0.0221, 0.0220, 0.0222, 0.0222, 0.0222, 0.0222, 0.0222, 0.0221]
S3_RED = flat([
    [0.0001, 0.0015, 0.0024, 0.0030, 0.0034, 0.0037, 0.0040, 0.0043, 0.0046, 0.0049],
    [0.0051, 0.0053, 0.0053, 0.0054, 0.0055, 0.0057, 0.0057, 0.0057, 0.0059, 0.0060],
    [0.0061, 0.0062, 0.0063, 0.0064, 0.0064, 0.0064, 0.0065, 0.0066, 0.0067, 0.0068],
    [0.0069, 0.0069, 0.0070, 0.0070, 0.0071, 0.0072, 0.0072, 0.0072, 0.0073, 0.0074]])
S3_BLACK_D = [0.0168, 0.0167, 0.0165, 0.0164, 0.0163, 0.0162, 0.0163, 0.0161, 0.0161, 0.0160, 0.0158,
              0.0156, 0.0157, 0.0157, 0.0156, 0.0155, 0.0154, 0.0155, 0.0154, 0.0153, 0.0151]
S3_BLUE_D = [0.0167, 0.0162, 0.0159, 0.0157, 0.0155, 0.0155, 0.0153, 0.0151, 0.0150, 0.0149, 0.0148,
             0.0146, 0.0144, 0.0144, 0.0142, 0.0141, 0.0139, 0.0137, 0.0136, 0.0135, 0.0133]
S3_RED_D = [0.0, 0.0, 0.0001, 0.0002, 0.0, 0.0001, 0.0, -0.0002, -0.0003, -0.0004, -0.0004]

# ---------------- Temperature [500 1050] ----------------
T3_BLACK = flat([
    [0.134, 0.133, 0.135, 0.135, 0.135, 0.135, 0.133, 0.132, 0.133, 0.132],
    [0.134, 0.133, 0.134, 0.133, 0.136, 0.134, 0.134, 0.134, 0.135, 0.132],
    [0.135, 0.132, 0.135, 0.133, 0.134, 0.132, 0.132, 0.131, 0.132, 0.133],
    [0.133, 0.132, 0.132, 0.133, 0.136, 0.134, 0.134, 0.135, 0.136, 0.133]])
T3_BLUE_PRE = [0.134, 0.131, 0.131, 0.130, 0.131, 0.131, 0.130, 0.131, 0.133, 0.132, 0.133,
               0.132, 0.131, 0.131, 0.133, 0.131, 0.131, 0.131, 0.131, 0.131, 0.129]
T3_BLUE_POST = [0.129, 0.127, 0.131, 0.132, 0.132, 0.131, 0.131, 0.131, 0.133, 0.133, 0.133,
                0.132, 0.132, 0.133, 0.136, 0.135, 0.134, 0.135, 0.137, 0.134, 0.135]
T3_RED = flat([
    [0.003, 0.020, 0.030, 0.036, 0.043, 0.045, 0.048, 0.050, 0.054, 0.057],
    [0.057, 0.058, 0.059, 0.059, 0.059, 0.060, 0.062, 0.061, 0.062, 0.063],
    [0.065, 0.065, 0.066, 0.066, 0.065, 0.064, 0.065, 0.067, 0.069, 0.070],
    [0.070, 0.070, 0.070, 0.071, 0.071, 0.072, 0.072, 0.072, 0.071, 0.073]])
T3_BLACK_D = [-0.012, -0.012, -0.013, -0.016, -0.016, -0.015, -0.014, -0.016, -0.016, -0.016, -0.018,
              -0.019, -0.018, -0.018, -0.019, -0.018, -0.018, -0.019, -0.018, -0.019, -0.022]
T3_BLUE_D = [-0.013, -0.014, -0.014, -0.016, -0.017, -0.016, -0.016, -0.019, -0.020, -0.020, -0.021,
             -0.022, -0.022, -0.022, -0.023, -0.021, -0.021, -0.022, -0.022, -0.022, -0.025]
T3_RED_D = [0.0, -0.001, 0.0, 0.0, -0.001, 0.0, 0.0, -0.001, 0.0, 0.0, -0.003]

# ---------------- panel table ----------------
PANELS = [
    dict(title='Precipitation', ylim=(-0.026, 0.995), yticks=[0, 0.2, 0.4, 0.6, 0.8],
         black=(TQ_FULL, P_BLACK), blue_pre=(TQ_PRE, P_BLUE_PRE), blue_post=(TQ_POST_B, P_BLUE_POST),
         red=(np.r_[T_SPLIT, TQ_POST_B], np.r_[P_RED_START, P_RED_POST]),
         black_d=(TH_FULL, P_BLACK_D), blue_d=(TH_FULL, P_BLUE_D), red_d=(TH_POST20, P_RED_D)),
    dict(title='Temperature 2M', ylim=(-0.123, 1.22), yticks=[0, 0.5, 1],
         black=(T6_FULL, A_BLACK), blue_pre=(T6_PRE, A_BLUE_PRE), blue_post=(T6_POST_B, A_BLUE_POST),
         red=(np.r_[T_SPLIT, T6_POST_B], np.r_[A_RED_START, A_RED_POST]),
         black_d=(TQ_FULL, A_BLACK_D), blue_d=(TQ_FULL, A_BLUE_D), red_d=(TQ_POST, A_RED_D)),
    dict(title='Sea ice concentration', ylim=(-0.148, 1.043), yticks=[0, 0.2, 0.4, 0.6, 0.8, 1],
         black=(T6_FULL, I_BLACK), blue_pre=(T6_PRE, I_BLUE_PRE), blue_post=(T6_POST, I_BLUE_POST),
         red=(T6_POST, I_RED_POST),
         black_d=(TQ_FULL, I_BLACK_D), blue_d=(TQ_FULL, I_BLUE_D), red_d=(TQ_POST, I_RED_D)),
    dict(title='Sea surface elevation', ylim=(-0.0703, 0.0715), yticks=[-0.05, 0, 0.05],
         black=(TY_FULL, E_BLACK), blue_pre=(TY_PRE, E_BLUE_PRE), blue_post=(TY_POST, E_BLUE_POST),
         red=(TQ_POST, E_RED),
         black_d=(TY_FULL, E_BLACK_D), blue_d=(TY_FULL, E_BLUE_D), red_d=(TY_POST, E_RED_D)),
    dict(title='SSS', ylim=(-0.0165, 0.1524), yticks=[0, 0.05, 0.1, 0.15],
         black=(TQ_FULL, S_BLACK), blue_pre=(TQ_PRE, S_BLUE_PRE), blue_post=(TQ_POST, S_BLUE_POST),
         red=(TQ_POST, S_RED),
         black_d=(TH_FULL, S_BLACK_D), blue_d=(TH_FULL, S_BLUE_D), red_d=(TH_POST20, S_RED_D)),
    dict(title='SST', ylim=(-0.0755, 0.462), yticks=[0, 0.1, 0.2, 0.3, 0.4],
         black=(T6_FULL, T_BLACK), blue_pre=(T6_PRE, T_BLUE_PRE), blue_post=(T6_POST, T_BLUE_POST),
         red=(T6_POST, T_RED),
         black_d=(TQ_FULL, T_BLACK_D), blue_d=(TQ_FULL, T_BLUE_D), red_d=(TQ_POST, T_RED_D)),
    dict(title='Salinity [0  225]', ylim=(-0.0029, 0.0684), yticks=[0, 0.02, 0.04, 0.06],
         black=(TH_FULL, S1_BLACK), blue_pre=(TH_PRE, S1_BLUE_PRE), blue_post=(TH_POST, S1_BLUE_POST),
         red=(TQ_POST, S1_RED),
         black_d=(TH_FULL, S1_BLACK_D), blue_d=(TH_FULL, S1_BLUE_D), red_d=(TH_POST20, S1_RED_D)),
    dict(title='Temperature [0  225]', ylim=(-0.0228, 0.365), yticks=[0, 0.1, 0.2, 0.3],
         black=(TQ_FULL, T1_BLACK), blue_pre=(TQ_PRE, T1_BLUE_PRE), blue_post=(TQ_POST, T1_BLUE_POST),
         red=(TQ_POST, T1_RED),
         black_d=(TH_FULL, T1_BLACK_D), blue_d=(TH_FULL, T1_BLUE_D), red_d=(TH_POST20, T1_RED_D)),
    dict(title='Salinity [225  500]', ylim=(0, 0.0354), yticks=[0, 0.01, 0.02, 0.03],
         black=(TH_FULL, S2_BLACK), blue_pre=(TH_PRE, S2_BLUE_PRE), blue_post=(TH_POST, S2_BLUE_POST),
         red=(TQ_POST, S2_RED),
         black_d=(TH_FULL, S2_BLACK_D), blue_d=(TH_FULL, S2_BLUE_D), red_d=(TH_POST20, S2_RED_D)),
    dict(title='Temperature [225  500]', ylim=(-0.0233, 0.2265), yticks=[0, 0.05, 0.1, 0.15, 0.2],
         black=(TH_FULL, T2_BLACK), blue_pre=(TH_PRE, T2_BLUE_PRE), blue_post=(TH_POST, T2_BLUE_POST),
         red=(TQ_POST, T2_RED),
         black_d=(TH_FULL, T2_BLACK_D), blue_d=(TH_FULL, T2_BLUE_D), red_d=(TH_POST20, T2_RED_D)),
    dict(title='Salinity [500  1050]', ylim=(0, 0.0264), yticks=[0, 0.005, 0.01, 0.015, 0.02, 0.025],
         black=(TY_FULL, S3_BLACK), blue_pre=(TY_PRE, S3_BLUE_PRE), blue_post=(TY_POST, S3_BLUE_POST),
         red=(TQ_POST, S3_RED),
         black_d=(TY_FULL, S3_BLACK_D), blue_d=(TY_FULL, S3_BLUE_D), red_d=(TY_POST, S3_RED_D)),
    dict(title='Temperature [500  1050]', ylim=(-0.026, 0.151), yticks=[0, 0.05, 0.1, 0.15],
         black=(TH_FULL, T3_BLACK), blue_pre=(TH_PRE, T3_BLUE_PRE), blue_post=(TH_POST, T3_BLUE_POST),
         red=(TQ_POST, T3_RED),
         black_d=(TY_FULL, T3_BLACK_D), blue_d=(TY_FULL, T3_BLUE_D), red_d=(TY_POST, T3_RED_D)),
]

# ---------------- layout / style ----------------
FIG_W, FIG_H = 18.34, 20.79
LEFTS = [0.0403, 0.5484]
WIDTHS = [0.4534, 0.4505]
BOTTOMS = [0.8711, 0.7026, 0.5350, 0.3678, 0.1988, 0.0297]
HEIGHT = 0.1118
LW = 2.4
DASH = (5.0, 2.2)
FS = 17
BLUE = '#0000ff'
RED = '#ff0000'


def fmt(v):
    s = '%g' % v
    return s.replace('-', '\u2212')


fig = plt.figure(figsize=(FIG_W, FIG_H), dpi=100)
for i, p in enumerate(PANELS):
    row, col = divmod(i, 2)
    ax = fig.add_axes([LEFTS[col], BOTTOMS[row], WIDTHS[col], HEIGHT])
    ax.axhline(0, color='k', lw=1.0, zorder=1)
    ax.axvline(T_SPLIT, color='k', lw=1.0, dashes=(6, 3), zorder=1)
    ax.plot(*p['black'], color='k', lw=LW, zorder=3)
    ax.plot(*p['black_d'], color='k', lw=LW, dashes=DASH, zorder=3)
    ax.plot(*p['red'], color=RED, lw=LW, zorder=4)
    ax.plot(*p['red_d'], color=RED, lw=LW, dashes=DASH, zorder=4)
    ax.plot(*p['blue_pre'], color=BLUE, lw=LW, zorder=5)
    ax.plot(*p['blue_post'], color=BLUE, lw=LW, zorder=5)
    ax.plot(*p['blue_d'], color=BLUE, lw=LW, dashes=DASH, zorder=5)
    ax.set_xlim(1, 21)
    ax.set_ylim(*p['ylim'])
    ax.set_xticks(XTICKS)
    ax.set_xticklabels([str(t) for t in XTICKS])
    ax.set_yticks(p['yticks'])
    ax.set_yticklabels([fmt(v) for v in p['yticks']])
    ax.tick_params(direction='in', length=6, width=1, top=True, right=True,
                   labelsize=FS, pad=5)
    for lab in ax.get_xticklabels() + ax.get_yticklabels():
        lab.set_fontweight('bold')
    for sp in ax.spines.values():
        sp.set_linewidth(1.0)
    ax.set_title(p['title'], fontsize=FS, fontweight='bold', pad=11)
    if row == 5:
        ax.set_xlabel('Time (year)', fontsize=FS, fontweight='bold', labelpad=2)

fig.savefig('out.png', dpi=100)
